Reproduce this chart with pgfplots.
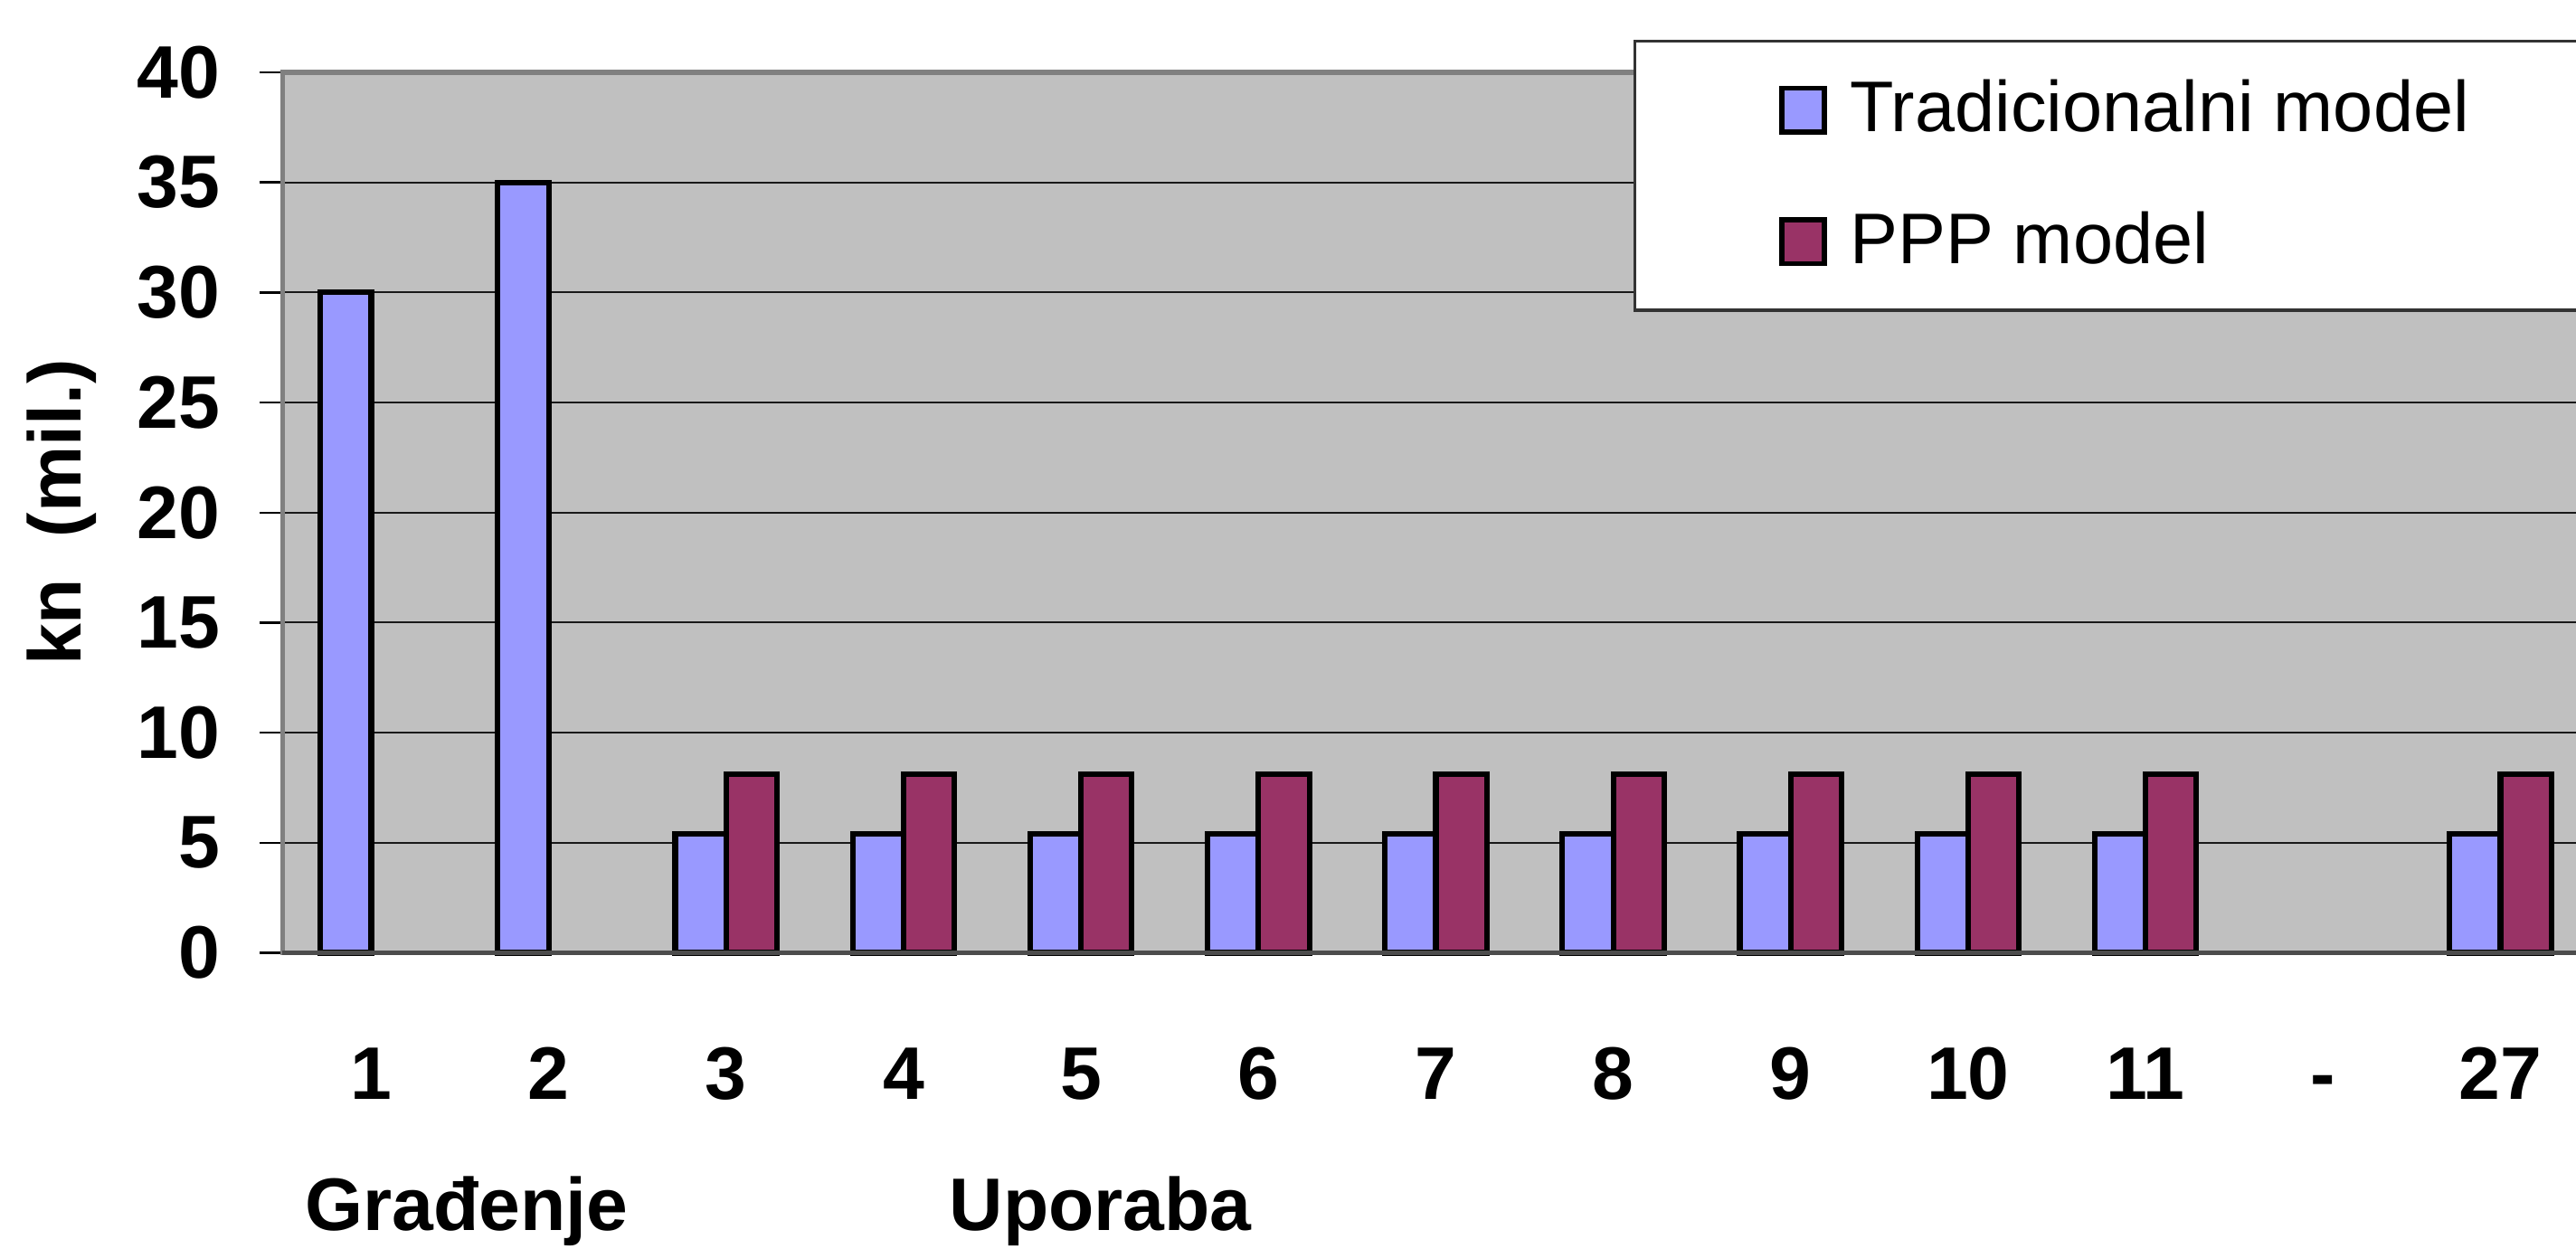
\documentclass[border=0pt]{standalone}
\usepackage{pgfplots}
\pgfplotsset{compat=1.18}
\usepackage{fontspec}
\setmainfont{Liberation Sans}
\definecolor{tradc}{HTML}{9999FF}
\definecolor{pppc}{HTML}{993366}
\definecolor{bgc}{HTML}{C0C0C0}
\definecolor{axgray}{HTML}{808080}
\begin{document}
\begin{tikzpicture}
\begin{axis}[
  at={(51.6pt,54pt)}, anchor=south west,
  scale only axis, width=421.2pt, height=160.8pt,
  xmin=-0.5, xmax=12.5, ymin=0, ymax=40,
  ybar=0pt, bar width=9.3pt,
  axis background/.style={fill=bgc},
  axis line style={draw=axgray, line width=0.9pt},
  ytick={0,5,...,40},
  ymajorgrids, grid style={black!90, line width=0.35pt},
  ytick style={black, line width=0.4pt},
  tick align=outside, major tick length=4.2pt,
  xtick={0,...,12},
  xticklabels={1,2,3,4,5,6,7,8,9,10,11,-,27},
  xtick style={draw=none},
  extra x ticks={-0.5,0.5,...,12.5},
  extra x tick labels={},
  extra x tick style={grid=none, tick style={draw=axgray, line width=0.4pt}, major tick length=3.9pt},
  /pgf/number format/assume math mode=true,
  ticklabel style={font=\fontsize{13.6}{16}\selectfont\bfseries},
  xticklabel style={anchor=base, yshift=-22.5pt},
  yticklabel style={anchor=east, inner sep=0pt, xshift=-7pt},
  legend style={at={(rel axis cs:0.5855,1)}, anchor=north west, yshift=6pt,
    draw=black!80, fill=white, line width=0.6pt,
    inner xsep=26.4pt, inner ysep=0.6pt, row sep=0pt, column sep=4.2pt,
    font=\fontsize{13.1}{15}\selectfont,
    nodes={inner sep=0pt, minimum height=24pt}},
  legend cell align=left,
  legend image code/.code={\draw[#1, draw=black, line width=0.9pt] (0pt,-4pt) rectangle (7.8pt,4pt);},
  clip=false,
]
\addplot[fill=tradc, draw=black, line width=1pt] coordinates {
  (0,30) (1,35) (2,5.4) (3,5.4) (4,5.4) (5,5.4) (6,5.4) (7,5.4) (8,5.4) (9,5.4) (10,5.4) (12,5.4)};
\addplot[fill=pppc, draw=black, line width=1pt] coordinates {
  (2,8.1) (3,8.1) (4,8.1) (5,8.1) (6,8.1) (7,8.1) (8,8.1) (9,8.1) (10,8.1) (12,8.1)};
\legend{Tradicionalni model, PPP model}
\draw[black!70, line width=0.8pt] (rel axis cs:0,0) -- (rel axis cs:1,0);
\node[anchor=base, font=\fontsize{13.6}{16}\selectfont\bfseries] at (axis cs:0.537,0) [yshift=-50.7pt] {Građenje};
\node[anchor=base, font=\fontsize{13.6}{16}\selectfont\bfseries] at (axis cs:4.11,0) [yshift=-50.7pt] {Uporaba};
\node[xshift=-40.3pt, rotate=90, anchor=center, font=\fontsize{13.6}{16}\selectfont\bfseries] at (rel axis cs:0,0.5) {kn\ \ (mil.)};
\end{axis}
\pgfresetboundingbox
\useasboundingbox (0,0) rectangle (470.4pt,228pt);
\end{tikzpicture}
\end{document}
